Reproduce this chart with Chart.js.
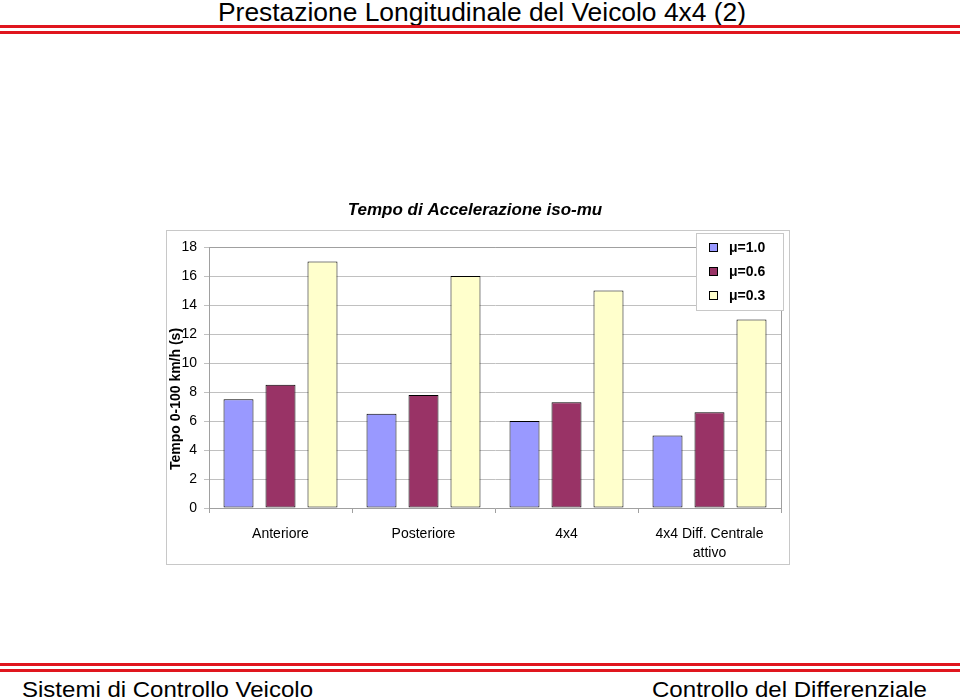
<!DOCTYPE html>
<html>
<head>
<meta charset="utf-8">
<script src="https://cdn.jsdelivr.net/npm/chart.js@4/dist/chart.umd.min.js"></script>
<style>
  html, body { margin: 0; padding: 0; background: #fff; }
  body { width: 960px; height: 699px; position: relative; overflow: hidden; font-family: "Liberation Sans", Arial, sans-serif; }
  .redline { position: absolute; left: 0; width: 960px; background: #e0161e; }
  .fit { position: absolute; white-space: nowrap; color: #000; transform-origin: 0 0; line-height: 1; }
  #box { position: absolute; left: 166px; top: 230px; width: 622px; height: 333px; border: 1px solid #c8c8c8; }
  #wrap { position: absolute; left: 166px; top: 190px; width: 624px; height: 375px; }
</style>
</head>
<body>
<div class="fit" id="t1" data-w="528" style="left:218px;top:0px;font-size:25px;">Prestazione Longitudinale del Veicolo 4x4 (2)</div>
<div class="redline" style="top:25px;height:3px;"></div>
<div class="redline" style="top:31px;height:3px;"></div>
<div class="redline" style="top:663px;height:3px;"></div>
<div class="redline" style="top:669px;height:3px;"></div>
<div class="fit" id="f1" data-w="291" style="left:22px;top:679px;font-size:22px;">Sistemi di Controllo Veicolo</div>
<div class="fit" id="f2" data-w="275" style="left:652px;top:679px;font-size:22px;">Controllo del Differenziale</div>
<div id="box"></div>
<div id="wrap"><canvas id="c" width="624" height="375"></canvas></div>
<script>
// ---- data ----
const categories = ['Anteriore', 'Posteriore', '4x4', ['4x4 Diff. Centrale', 'attivo']];
const seriesNames = ['\u03bc=1.0', '\u03bc=0.6', '\u03bc=0.3'];
const mu10 = [7.5, 6.5, 6.0, 5.0];
const mu06 = [8.5, 7.8, 7.3, 6.6];
const mu03 = [17, 16, 15, 13];
const yTicks = [0, 2, 4, 6, 8, 10, 12, 14, 16, 18];
const chartTitle = 'Tempo di Accelerazione iso-mu';
const yTitle = 'Tempo 0-100 km/h (s)';

// fit header/footer text widths
document.querySelectorAll('.fit').forEach(el => {
  const w = el.getBoundingClientRect().width;
  el.style.transform = 'scaleX(' + (parseFloat(el.dataset.w) / w) + ')';
});

const colors = ['#9999ff', '#993366', '#ffffcc'];

const decor = {
  id: 'decor',
  afterDraw(chart) {
    const ctx = chart.ctx, a = chart.chartArea;
    ctx.save();
    // plot border (top/right)
    ctx.strokeStyle = '#a0a0a0';
    ctx.lineWidth = 1;
    ctx.beginPath();
    ctx.moveTo(a.left, Math.round(a.top) + 0.5);
    ctx.lineTo(Math.round(a.right) + 0.5, Math.round(a.top) + 0.5);
    ctx.lineTo(Math.round(a.right) + 0.5, a.bottom);
    ctx.stroke();
    // chart title
    ctx.fillStyle = '#000';
    ctx.font = 'italic bold 17px "Liberation Sans", Arial, sans-serif';
    ctx.textAlign = 'center';
    ctx.textBaseline = 'middle';
    ctx.fillText(chartTitle, 309, 20);
    // y title
    ctx.save();
    ctx.translate(10, 209);
    ctx.rotate(-Math.PI / 2);
    ctx.font = 'bold 14px "Liberation Sans", Arial, sans-serif';
    ctx.fillText(yTitle, 0, 0);
    ctx.restore();
    // legend
    const lx = 530, ly = 43, lw = 87, lh = 77;
    ctx.fillStyle = '#fff';
    ctx.fillRect(lx, ly, lw, lh);
    ctx.strokeStyle = '#c8c8c8';
    ctx.strokeRect(lx + 0.5, ly + 0.5, lw, lh);
    chart.data.datasets.forEach((ds, i) => {
      const cy = ly + 15 + i * 24;
      ctx.fillStyle = ds.backgroundColor;
      ctx.fillRect(543, cy - 5, 9, 9);
      ctx.strokeStyle = '#000';
      ctx.strokeRect(543.5, cy - 4.5, 8, 8);
      ctx.fillStyle = '#000';
      ctx.font = 'bold 14px "Liberation Sans", Arial, sans-serif';
      ctx.textAlign = 'left';
      ctx.fillText(ds.label, 563, cy);
    });
    ctx.restore();
  }
};

new Chart(document.getElementById('c'), {
  type: 'bar',
  data: {
    labels: categories,
    datasets: [mu10, mu06, mu03].map((d, i) => ({
      label: seriesNames[i],
      data: d,
      backgroundColor: colors[i],
      borderColor: '#000',
      borderWidth: 1,
      borderSkipped: false,
      categoryPercentage: 0.881,
      barPercentage: 0.714
    }))
  },
  options: {
    responsive: false,
    animation: false,
    devicePixelRatio: 1,
    layout: { padding: { top: 57, right: 9, left: 0, bottom: 0 } },
    plugins: { legend: { display: false }, title: { display: false }, tooltip: { enabled: false } },
    scales: {
      x: {
        offset: true,
        grid: { offset: true, drawOnChartArea: false, drawTicks: true, tickLength: 5, color: '#a0a0a0' },
        border: { color: '#a0a0a0' },
        ticks: { color: '#000', font: { size: 14, family: '"Liberation Sans", Arial, sans-serif', lineHeight: 1.4 }, padding: 11, maxRotation: 0 },
        afterFit: s => { s.height = 57; }
      },
      y: {
        min: 0, max: 18,
        afterBuildTicks: s => { s.ticks = yTicks.map(v => ({ value: v })); },
        grid: { color: '#c0c0c0', tickLength: 5, drawTicks: true },
        border: { color: '#a0a0a0' },
        ticks: { color: '#000', font: { size: 14, family: '"Liberation Sans", Arial, sans-serif' }, padding: 7 },
        afterFit: s => { s.width = 43; }
      }
    }
  },
  plugins: [decor]
});
</script>
</body>
</html>
